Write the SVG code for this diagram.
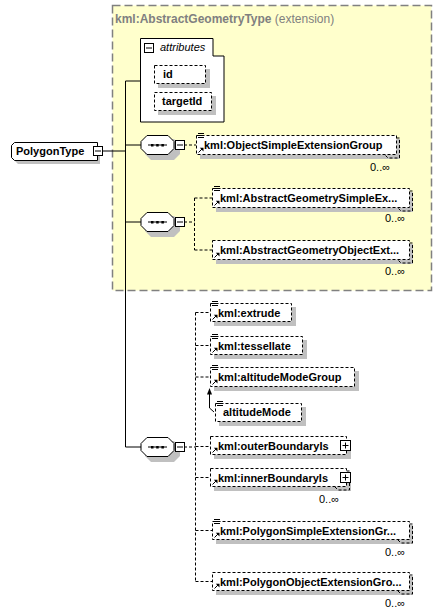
<svg xmlns="http://www.w3.org/2000/svg" width="442" height="616" viewBox="0 0 442 616">
<style>
text{font-family:"Liberation Sans",Arial,sans-serif;font-size:11px;fill:#000}
.b{font-weight:bold}
.t{fill:#808080;font-size:12px}
.sh{fill:#c0c0c0;stroke:none}
.el{fill:#fff;stroke:#000;stroke-width:1;stroke-dasharray:3,2}
.bk{fill:none;stroke:#000;stroke-width:1;stroke-dasharray:3,2}
.solid{fill:#fff;stroke:#000;stroke-width:1}
.ln{fill:none;stroke:#000;stroke-width:1}
.dl{fill:none;stroke:#000;stroke-width:1;stroke-dasharray:3,2}
.ic{fill:none;stroke:#000;stroke-width:1}
.icf{fill:#000;stroke:none}
</style>
<defs>
<g id="ico-lines"><path class="ic" d="M0,0.5H6M0,2.5H6M0,4.5H6"/></g>
<g id="ico-ref"><path class="ic" d="M0.5,5.5L4,2"/><path class="icf" d="M1.8,0.8H5.5V4.5Z"/></g>
<g id="seq">
<path class="sh" d="M10,4H33L39,10V19L33,25H10L4,19V10Z"/>
<path class="solid" d="M6,0.5H27L33,6.5V13.5L27,19.5H6L0,13.5V6.5Z"/>
<path class="ln" d="M7,10H26"/>
<rect class="icf" x="10" y="9" width="2.5" height="2.5"/>
<rect class="icf" x="15.2" y="9" width="2.5" height="2.5"/>
<rect class="icf" x="20.4" y="9" width="2.5" height="2.5"/>
</g>
<g id="minus"><rect class="solid" x="0.5" y="0.5" width="9" height="9"/><path class="ln" d="M2,5H8"/></g>
<g id="plus"><rect class="solid" x="0.5" y="0.5" width="10" height="10"/><path class="ln" d="M2.5,5.5H8.5M5.5,2.5V8.5"/></g>
</defs>

<g id="extension">
<rect x="112.5" y="5.5" width="319" height="285" fill="#ffffcc" stroke="#808080" stroke-width="1.5" stroke-dasharray="8,4"/>
<text x="115" y="23"><tspan class="b t">kml:AbstractGeometryType</tspan><tspan class="t"> (extension)</tspan></text>
</g>

<g id="connectors">
<path class="ln" d="M102,151H125.5M125.5,81V447H141M125.5,81H140M125.5,145H141M125.5,222H141"/>
<path class="dl" d="M184,145H196"/>
<path class="dl" d="M184,222H194.5M194.5,198V250M194.5,198H212M194.5,250H212"/>
<path class="dl" d="M184,447H195.5M195.5,312.5V581.5M195.5,312.5H210M195.5,345.5H210M195.5,377H210M195.5,446.5H210M195.5,477.5H210M195.5,530.5H212M195.5,581.5H212"/>
<path class="ln" d="M214,412L209.5,408V393"/>
<path class="icf" d="M209.5,388L212,394.5H207Z"/>
</g>

<g id="PolygonType">
<path class="sh" d="M18,146H100V164H18L15,161V149Z"/>
<path class="solid" d="M14.5,142.5H97.5V160.5H14.5L11.5,157.5V145.5Z"/>
<text class="b" x="16" y="155">PolygonType</text>
<use href="#minus" x="93" y="146"/>
</g>

<g id="attributes">
<path class="solid" d="M140.5,38.5H213V56H224V122H140.5Z"/>
<use href="#minus" x="144" y="43"/>
<text x="160" y="51" font-style="italic">attributes</text>
</g>
<g id="attr-id">
<rect class="sh" x="158" y="69" width="52" height="19"/>
<rect class="el" x="154.5" y="65.5" width="51" height="18"/>
<text class="b" x="163" y="78">id</text>
</g>
<g id="attr-targetId">
<rect class="sh" x="158" y="96" width="58" height="19"/>
<rect class="el" x="154.5" y="92.5" width="57" height="18"/>
<text class="b" x="162" y="105">targetId</text>
</g>

<g id="seq1"><use href="#seq" x="141" y="135"/><use href="#minus" x="175" y="140"/></g>
<g id="seq2"><use href="#seq" x="141" y="212"/><use href="#minus" x="175" y="217"/></g>
<g id="seq3"><use href="#seq" x="141" y="437"/><use href="#minus" x="175" y="442"/></g>

<g id="ObjectSimpleExtensionGroup">
<rect class="sh" x="200" y="139" width="200" height="20"/>
<path class="bk" d="M396.5,138H399.5V158H388L385,155"/>
<rect class="el" x="196.5" y="135.5" width="200" height="19"/>
<use href="#ico-lines" x="198" y="133"/><use href="#ico-ref" x="198" y="147"/>
<text class="b" x="204" y="149">kml:ObjectSimpleExtensionGroup</text>
<text x="370" y="171">0..∞</text>
</g>

<g id="AbstractGeometrySimpleExtensionGroup">
<rect class="sh" x="216" y="192" width="197" height="20"/>
<path class="bk" d="M409.5,191H412.5V211H401L398,208"/>
<rect class="el" x="212.5" y="188.5" width="197" height="19"/>
<use href="#ico-lines" x="214" y="186"/><use href="#ico-ref" x="214" y="200"/>
<text class="b" x="220" y="202">kml:AbstractGeometrySimpleEx...</text>
<text x="385" y="222">0..∞</text>
</g>

<g id="AbstractGeometryObjectExtensionGroup">
<rect class="sh" x="216" y="244" width="197" height="20"/>
<path class="bk" d="M409.5,243H412.5V263H401L398,260"/>
<rect class="el" x="212.5" y="240.5" width="197" height="19"/>
<use href="#ico-ref" x="214" y="252"/>
<text class="b" x="220" y="254">kml:AbstractGeometryObjectExt...</text>
<text x="385" y="275">0..∞</text>
</g>

<g id="extrude">
<rect class="sh" x="214" y="307" width="82" height="19"/>
<rect class="el" x="210.5" y="303.5" width="81" height="18"/>
<use href="#ico-lines" x="212" y="301"/><use href="#ico-ref" x="212" y="314"/>
<text class="b" x="218" y="317">kml:extrude</text>
</g>

<g id="tessellate">
<rect class="sh" x="214" y="340" width="93" height="19"/>
<rect class="el" x="210.5" y="336.5" width="92" height="18"/>
<use href="#ico-lines" x="212" y="334"/><use href="#ico-ref" x="212" y="347"/>
<text class="b" x="218" y="350">kml:tessellate</text>
</g>

<g id="altitudeModeGroup">
<rect class="sh" x="214" y="371" width="145" height="20"/>
<rect class="el" x="210.5" y="367.5" width="144" height="19"/>
<use href="#ico-lines" x="212" y="365"/><use href="#ico-ref" x="212" y="379"/>
<text class="b" x="218" y="381">kml:altitudeModeGroup</text>
</g>

<g id="altitudeMode">
<rect class="sh" x="219" y="407" width="87" height="19"/>
<rect class="el" x="215.5" y="403.5" width="86" height="18"/>
<use href="#ico-lines" x="217" y="401"/>
<text class="b" x="223" y="416">altitudeMode</text>
</g>

<g id="outerBoundaryIs">
<rect class="sh" x="214" y="440" width="137" height="19"/>
<rect class="el" x="210.5" y="436.5" width="136" height="18"/>
<use href="#ico-ref" x="212" y="447"/>
<text class="b" x="218" y="450">kml:outerBoundaryIs</text>
<use href="#plus" x="340" y="440"/>
</g>

<g id="innerBoundaryIs">
<rect class="sh" x="214" y="472" width="137" height="19"/>
<path class="bk" d="M346.5,471H349.5V490H338L335,487"/>
<rect class="el" x="210.5" y="468.5" width="136" height="18"/>
<use href="#ico-ref" x="212" y="479"/>
<text class="b" x="218" y="482">kml:innerBoundaryIs</text>
<use href="#plus" x="340" y="472"/>
<text x="319" y="503">0..∞</text>
</g>

<g id="PolygonSimpleExtensionGroup">
<rect class="sh" x="216" y="525" width="197" height="19"/>
<path class="bk" d="M409.5,524H412.5V543H401L398,540"/>
<rect class="el" x="212.5" y="521.5" width="197" height="18"/>
<use href="#ico-lines" x="214" y="519"/><use href="#ico-ref" x="214" y="532"/>
<text class="b" x="220" y="535">kml:PolygonSimpleExtensionGr...</text>
<text x="385" y="556">0..∞</text>
</g>

<g id="PolygonObjectExtensionGroup">
<rect class="sh" x="216" y="576" width="197" height="19"/>
<path class="bk" d="M409.5,575H412.5V594H401L398,591"/>
<rect class="el" x="212.5" y="572.5" width="197" height="18"/>
<use href="#ico-ref" x="214" y="583"/>
<text class="b" x="220" y="586">kml:PolygonObjectExtensionGro...</text>
<text x="385" y="607">0..∞</text>
</g>
</svg>
